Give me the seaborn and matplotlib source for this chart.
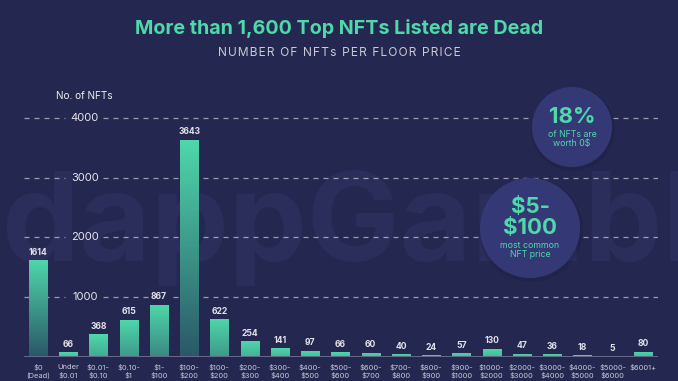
import numpy as np
import matplotlib
matplotlib.use("Agg")
import matplotlib.pyplot as plt
import seaborn as sns
import pandas as pd
from matplotlib.patches import Circle
from matplotlib.colors import to_rgb

categories = ["$0\n(Dead)", "Under\n$0.01", "$0.01-\n$0.10", "$0.10-\n$1", "$1-\n$100",
              "$100-\n$200", "$100-\n$200", "$200-\n$300", "$300-\n$400", "$400-\n$500",
              "$500-\n$600", "$600-\n$700", "$700-\n$800", "$800-\n$900", "$900-\n$1000",
              "$1000-\n$2000", "$2000-\n$3000", "$3000-\n$4000", "$4000-\n$5000",
              "$5000-\n$6000", "$6001+"]
counts = [1614, 66, 368, 615, 867, 3643, 622, 254, 141, 97, 66, 60, 40, 24, 57,
          130, 47, 36, 18, 5, 80]
y_ticks = [1000, 2000, 3000, 4000]

BG = "#24274f"
TEAL = "#4fd8aa"
DARK = "#2b5868"
CIRC = "#343976"

sns.set_theme(style="white")
plt.rcParams['font.family'] = ['Inter', 'DejaVu Sans']

W, H = 678, 381
fig = plt.figure(figsize=(W / 100, H / 100), dpi=100, facecolor=BG)

# background / watermark layer
bgax = fig.add_axes([0, 0, 1, 1], zorder=0)
bgax.set_xlim(0, W); bgax.set_ylim(H, 0); bgax.axis('off')
bgax.text(1, 261, "dappGambl", fontsize=89, fontweight='bold', color="#2b2e5b",
          ha='left', va='baseline')

# main chart
ax = fig.add_axes([24 / W, 1 - 357 / H, 634 / W, (357 - 101) / H], zorder=1)
ax.patch.set_alpha(0)
df = pd.DataFrame({"pos": list(range(len(counts))), "count": counts})
sns.barplot(data=df, x="pos", y="count", ax=ax, color=TEAL, width=0.6,
            saturation=1, errorbar=None)

t_rgb = np.array(to_rgb(TEAL)); d_rgb = np.array(to_rgb(DARK))
for p in ax.patches:
    x0, w, h = p.get_x(), p.get_width(), p.get_height()
    if h <= 0:
        continue
    f = min(1.0, h / 1600) * 0.85 + 0.15
    bottom = t_rgb * (1 - f) + d_rgb * f
    n = 128
    fr = np.linspace(0, 1, n)[:, None]
    img = (bottom[None, :] * (1 - fr) + t_rgb[None, :] * fr)[:, None, :]
    im = ax.imshow(img, extent=[x0, x0 + w, 0, h], origin='lower', aspect='auto',
                   zorder=2, interpolation='bilinear')
    im.set_clip_path(p)
    p.set_facecolor('none'); p.set_edgecolor('none')

ax.set_xlim(-0.463, 20.5)
ax.set_ylim(-10, 4290)

# dashed gridlines with gap for labels
for t in y_ticks:
    ax.hlines(t, -0.463, 0.89, colors='white', alpha=0.55, lw=0.9,
              linestyles=(0, (4, 4)), zorder=0.5)
    ax.hlines(t, 2.15, 20.5, colors='white', alpha=0.55, lw=0.9,
              linestyles=(0, (4, 4)), zorder=0.5)
    ax.text(1.55, t, str(t), ha='center', va='center', color='#e6e6ee', fontsize=8)

for i, v in enumerate(counts):
    near = any(abs(v + 150 - t) < 160 for t in y_ticks)
    ax.annotate(str(v), (i, v), xytext=(0, 2.5), textcoords='offset points',
                ha='center', va='bottom', fontsize=6.2, fontweight='bold',
                color='#e2e2ea', zorder=4,
                bbox=dict(facecolor=BG, edgecolor='none', pad=1.5) if near else None)

ax.axhline(-10, color="#6d7090", lw=2, zorder=1)
for s in ax.spines.values():
    s.set_visible(False)
ax.set_yticks([])
ax.set_xticks(range(len(categories)))
ax.set_xticklabels(categories, fontsize=5.4, color='#c8c9d8', linespacing=1.35)
ax.tick_params(axis='x', length=0, pad=5)
ax.set_xlabel(""); ax.set_ylabel("")

# overlay: titles and circles
ov = fig.add_axes([0, 0, 1, 1], zorder=3)
ov.set_xlim(0, W); ov.set_ylim(H, 0); ov.axis('off')
ov.patch.set_alpha(0)
ov.text(339, 28, "More than 1,600 Top NFTs Listed are Dead", ha='center', va='center',
        fontsize=14.2, fontweight='bold', color=TEAL)
sub = "NUMBER OF NFTs PER FLOOR PRICE"
ov.text(339, 53, "\u200a".join(sub), ha='center', va='center', fontsize=8.6,
        color='#c9cad8')
ov.text(84, 96, "No. of NFTs", ha='center', va='center', fontsize=7.2, color='#eeeef4')

for (cx, cy, r) in [(572, 127, 40), (530, 228, 50)]:
    ov.add_patch(Circle((cx + 1, cy + 2), r + 2, color='#1a1c3c', alpha=0.25, lw=0))
    ov.add_patch(Circle((cx, cy), r, color=CIRC, lw=0))

ov.text(572, 117, "18%", ha='center', va='center', fontsize=16, fontweight='bold', color=TEAL)
ov.text(572, 139, "of NFTs are\nworth 0$", ha='center', va='center', fontsize=6.3,
        color=TEAL, linespacing=1.0)
ov.text(530, 207, "$5-", ha='center', va='center', fontsize=16, fontweight='bold', color=TEAL)
ov.text(530, 228, "$100", ha='center', va='center', fontsize=16, fontweight='bold', color=TEAL)
ov.text(530, 250, "most common\nNFT price", ha='center', va='center', fontsize=6.3,
        color=TEAL, linespacing=1.0)

fig.savefig("out.png", dpi=100, facecolor=BG)
